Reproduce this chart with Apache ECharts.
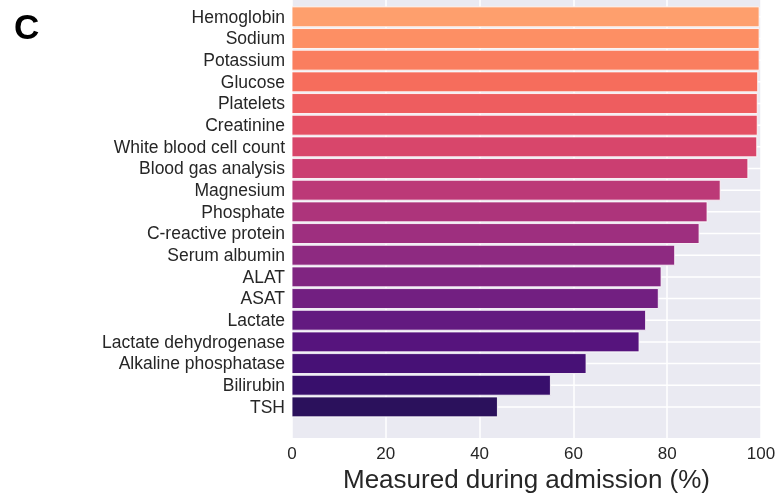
<!DOCTYPE html>
<html>
<head>
<meta charset="utf-8">
<script src="https://cdn.jsdelivr.net/npm/echarts@6/dist/echarts.min.js"></script>
<style>
  html, body { margin: 0; padding: 0; background: #ffffff; }
  #chart { width: 779px; height: 495px; }
</style>
</head>
<body>
<div id="chart"></div>
<script>
// ---- data ----
var categories = [
  'Hemoglobin', 'Sodium', 'Potassium', 'Glucose', 'Platelets', 'Creatinine',
  'White blood cell count', 'Blood gas analysis', 'Magnesium', 'Phosphate',
  'C-reactive protein', 'Serum albumin', 'ALAT', 'ASAT', 'Lactate',
  'Lactate dehydrogenase', 'Alkaline phosphatase', 'Bilirubin', 'TSH'
];
var measuredPct = [
  99.6, 99.6, 99.6, 99.3, 99.2, 99.2,
  99.1, 97.2, 91.3, 88.5,
  86.8, 81.6, 78.7, 78.1, 75.4,
  74.0, 62.7, 55.1, 43.8
];
var xTicks = [0, 20, 40, 60, 80, 100];
var axisTitle = 'Measured during admission (%)';
var panelLetter = 'C';

// ---- colours (magma colormap sampled) ----
var magmaStops = [
  [0.15, '#29115a'], [0.20, '#3b0f70'], [0.25, '#51127c'], [0.30, '#641a80'],
  [0.35, '#782281'], [0.40, '#8c2981'], [0.45, '#a1307e'], [0.50, '#b73779'],
  [0.55, '#cb3e71'], [0.60, '#de4968'], [0.65, '#ed5a5f'], [0.70, '#f7705c'],
  [0.75, '#fc8961'], [0.80, '#fe9f6d'], [0.85, '#feb77e']
];
function hexToRgb(h) { return [parseInt(h.substr(1,2),16), parseInt(h.substr(3,2),16), parseInt(h.substr(5,2),16)]; }
function magma(t) {
  for (var k = 0; k < magmaStops.length - 1; k++) {
    var a = magmaStops[k], b = magmaStops[k+1];
    if (t >= a[0] && t <= b[0]) {
      var f = (t - a[0]) / (b[0] - a[0]);
      var ca = hexToRgb(a[1]), cb = hexToRgb(b[1]);
      var c = ca.map(function (v, j) { return Math.round(v + (cb[j] - v) * f); });
      return 'rgb(' + c.join(',') + ')';
    }
  }
  return t < magmaStops[0][0] ? magmaStops[0][1] : magmaStops[magmaStops.length-1][1];
}
var n = categories.length;
var barColors = categories.map(function (c, i) { return magma(0.80 - i * (0.80 - 0.155) / (n - 1)); });

var FONT = '"Liberation Sans", Arial, Helvetica, sans-serif';
var chart = echarts.init(document.getElementById('chart'), null, { renderer: 'canvas' });

var seriesData = measuredPct.map(function (v, i) { return [v, i]; });

var option = {
  animation: false,
  backgroundColor: '#ffffff',
  grid: {
    left: 292, right: 18, top: 0, bottom: 57,
    containLabel: false, outerBoundsMode: 'none',
    show: true, backgroundColor: '#eaeaf2', borderWidth: 0
  },
  xAxis: {
    type: 'value', min: 0, max: 100, interval: 20,
    axisLine: { show: false }, axisTick: { show: false },
    axisLabel: { color: '#262626', fontSize: 17, fontFamily: FONT, margin: 8 },
    splitLine: { show: true, lineStyle: { color: '#ffffff', width: 1.5 } },
    name: axisTitle, nameLocation: 'middle', nameGap: 29,
    nameTextStyle: { color: '#262626', fontSize: 26, fontFamily: FONT }
  },
  yAxis: {
    type: 'value', inverse: true, min: -0.777, max: 19.435,
    axisLine: { show: false }, axisTick: { show: false },
    axisLabel: { show: false }, splitLine: { show: false }
  },
  graphic: [{
    type: 'text', left: 14, top: 12,
    style: { text: panelLetter, fontSize: 35, fontWeight: 'bold', fontFamily: FONT, fill: '#000000' }
  }],
  series: [
    {
      type: 'custom', z: 1, clip: false,
      data: seriesData,
      encode: { x: 0, y: 1 },
      renderItem: function (params, api) {
        var i = api.value(1);
        var a = api.coord([0, i]);
        var b = api.coord([100, i]);
        return {
          type: 'line',
          shape: { x1: a[0], y1: a[1], x2: b[0], y2: b[1] },
          style: { stroke: '#ffffff', lineWidth: 1.5 }
        };
      }
    },
    {
      type: 'custom', z: 2, clip: false,
      data: seriesData,
      encode: { x: 0, y: 1 },
      renderItem: function (params, api) {
        var v = api.value(0), i = api.value(1);
        var p0 = api.coord([0, i]);
        var p1 = api.coord([v, i]);
        var band = api.size([0, 1])[1];
        var h = band * 0.92;
        return {
          type: 'group',
          children: [
            {
              type: 'rect',
              shape: { x: p0[0], y: p0[1] - h / 2, width: p1[0] - p0[0], height: h },
              style: { fill: barColors[i], stroke: 'rgba(255,255,255,0.85)', lineWidth: 1 }
            },
            {
              type: 'text',
              x: p0[0] - 7, y: p0[1] + 1,
              style: {
                text: categories[i], align: 'right', verticalAlign: 'middle',
                fontSize: 17.5, fontFamily: FONT, fill: '#262626'
              }
            }
          ]
        };
      }
    }
  ]
};
chart.setOption(option);
</script>
</body>
</html>
